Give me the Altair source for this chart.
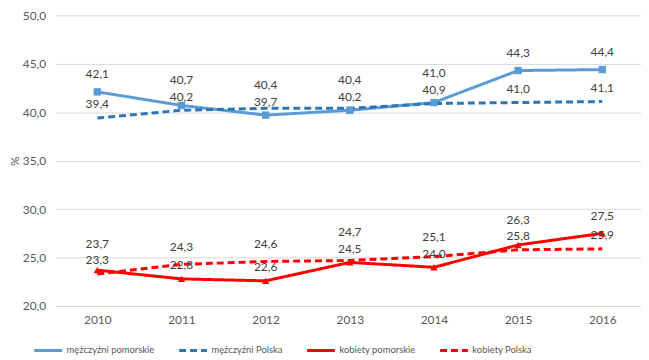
import altair as alt
import pandas as pd

years = [2010, 2011, 2012, 2013, 2014, 2015, 2016]
series_names = ["mężczyźni pomorskie", "mężczyźni Polska", "kobiety pomorskie", "kobiety Polska"]
series_groups = ["M", "M", "K", "K"]
men_pomorskie = [42.1, 40.7, 39.7, 40.2, 41.0, 44.3, 44.4]
men_polska = [39.4, 40.2, 40.4, 40.4, 40.9, 41.0, 41.1]
women_pomorskie = [23.7, 22.8, 22.6, 24.5, 24.0, 26.3, 27.5]
women_polska = [23.3, 24.3, 24.6, 24.7, 25.1, 25.8, 25.9]
y_ticks = [20, 25, 30, 35, 40, 45, 50]

colors = ["#5B9BD5", "#2E75B6", "#FF0000", "#FF0000"]
dashes = [[1, 0], [7, 4], [1, 0], [7, 4]]

values = [men_pomorskie, men_polska, women_pomorskie, women_polska]
rows = []
for name, grp, vals in zip(series_names, series_groups, values):
    for yr, v in zip(years, vals):
        rows.append({"year": yr, "series": name, "grp": grp, "value": v})
df = pd.DataFrame(rows)

FONT = "Lato"
x_enc = alt.X(
    "year:Q",
    scale=alt.Scale(domain=[2009.505, 2016.46], nice=False, zero=False),
    axis=alt.Axis(values=years, format="d", grid=False, domain=False, ticks=False,
                  labelPadding=9, labelFlush=False, title=None),
)
y_axis = alt.Axis(
    values=y_ticks,
    labelExpr="replace(format(datum.value, '.1f'), '.', ',')",
    grid=True, gridColor="#D9D9D9", gridWidth=1,
    domain=False, ticks=False, labelPadding=10,
    title="%", titlePadding=1, titleFontWeight="normal", titleFontSize=12,
    titleColor="#595959", titleFont=FONT,
)
y_scale = alt.Scale(domain=[20, 50], nice=False, zero=False)
color_scale = alt.Scale(domain=series_names, range=colors)

base = alt.Chart(df)

lines = base.mark_line(strokeWidth=3).encode(
    x=x_enc,
    y=alt.Y("value:Q", scale=y_scale, axis=y_axis),
    color=alt.Color("series:N", scale=color_scale, title=None),
    strokeDash=alt.StrokeDash("series:N", scale=alt.Scale(domain=series_names, range=dashes), title=None),
)

points = base.transform_filter(
    alt.FieldOneOfPredicate(field="series", oneOf=["mężczyźni pomorskie", "kobiety pomorskie"])
).mark_point(filled=True, opacity=1, size=55).encode(
    x=x_enc,
    y=alt.Y("value:Q", scale=y_scale),
    color=alt.Color("series:N", scale=color_scale, title=None),
    shape=alt.Shape("series:N",
                    scale=alt.Scale(domain=["mężczyźni pomorskie", "kobiety pomorskie"],
                                    range=["square", "triangle-up"]),
                    legend=None),
)

labels = base.transform_joinaggregate(
    hi="max(value)", lo="min(value)", groupby=["year", "grp"]
).transform_calculate(
    ly="datum.value == datum.hi && datum.hi != datum.lo ? max(datum.hi + 1.8, datum.lo + 3.1) : datum.lo + 1.4",
    lab="replace(format(datum.value, '.1f'), '.', ',')",
).mark_text(font=FONT, fontSize=12, color="#404040", baseline="middle").encode(
    x=x_enc,
    y=alt.Y("ly:Q", scale=y_scale),
    text="lab:N",
)

chart = alt.layer(lines, points, labels).properties(
    width=590,
    height=293,
    padding={"left": 48, "top": 6, "right": 0, "bottom": 50},
    autosize=alt.AutoSizeParams(type="none"),
).configure_view(stroke=None).configure_axis(
    labelFont=FONT, labelFontSize=12, labelColor="#595959",
).configure_legend(
    orient="none", legendX=-23, legendY=322, direction="horizontal", columns=4,
    columnPadding=18, symbolType="stroke", symbolSize=784, symbolStrokeWidth=3,
    labelOffset=3, labelFont=FONT, labelFontSize=9.5, labelColor="#595959",
)

chart.save("out.html", embed_options={"renderer": "svg", "actions": False})
